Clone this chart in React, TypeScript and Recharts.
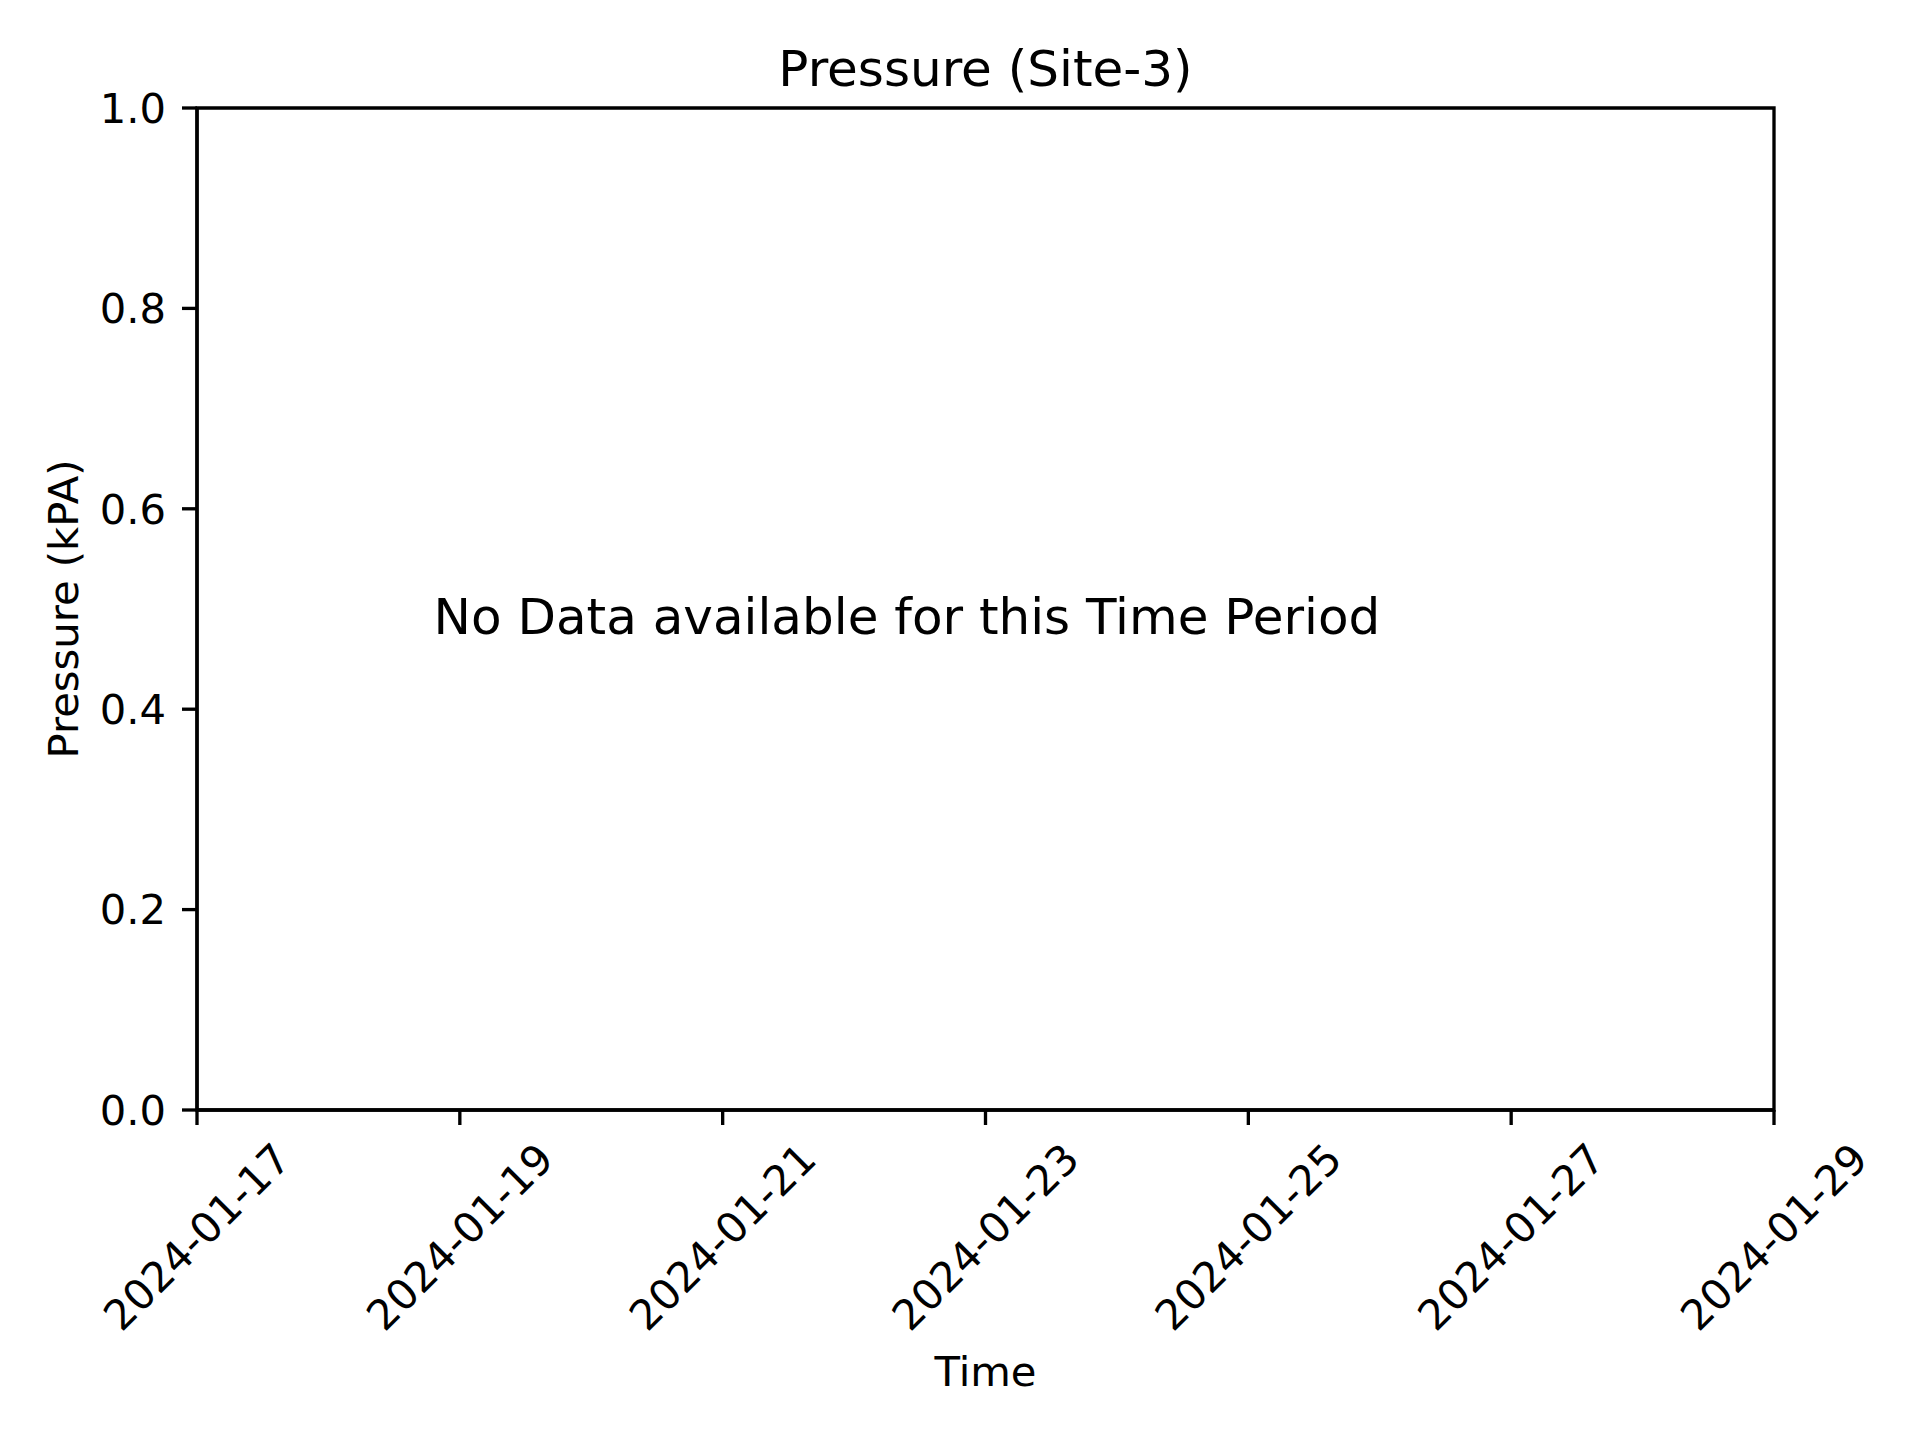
import React from 'react';
import { LineChart, Line, XAxis, YAxis, ReferenceArea, Customized } from 'recharts';

const chartTitle = 'Pressure (Site-3)';
const noDataMessage = 'No Data available for this Time Period';
const xAxisTitle = 'Time';
const yAxisTitle = 'Pressure (kPA)';

// time window shown on the axis
const timeWindow = ['2024-01-17', '2024-01-29'];
// x tick labels, every second day
const timeTickLabels = [
  '2024-01-17',
  '2024-01-19',
  '2024-01-21',
  '2024-01-23',
  '2024-01-25',
  '2024-01-27',
  '2024-01-29'
];
const pressureTicks = [0, 0.2, 0.4, 0.6, 0.8, 1.0];
const pressureDomain = [0, 1];
// no readings were recorded in this window
const pressureReadings: (number | null)[] = [null, null];

const WIDTH = 1920;
const HEIGHT = 1440;
const MARGIN = { top: 108, right: 146, left: 0, bottom: 0 };
const Y_AXIS_WIDTH = 197;
const X_AXIS_HEIGHT = 330;
const PLOT_LEFT = MARGIN.left + Y_AXIS_WIDTH;
const PLOT_RIGHT = WIDTH - MARGIN.right;
const PLOT_TOP = MARGIN.top;
const PLOT_BOTTOM = HEIGHT - MARGIN.bottom - X_AXIS_HEIGHT;

const FONT = '"DejaVu Sans", sans-serif';
const TICK_FONT = 41.7;
const TITLE_FONT = 50;
const LINE_W = 3.33;

const toMs = (d: string) => Date.parse(d + 'T00:00:00Z');
const fmtDate = (t: number) => new Date(t).toISOString().slice(0, 10);

const chartData = timeWindow.map((d, i) => ({ time: toMs(d), pressure: pressureReadings[i] }));
const xTicks = timeTickLabels.map(toMs);

const DateTick = (props: any) => {
  const { x, y, payload } = props;
  return (
    <g transform={`translate(${x},${y + 97}) rotate(-45)`}>
      <text
        x={0}
        y={0}
        textAnchor="middle"
        dominantBaseline="central"
        fontFamily={FONT}
        fontSize={TICK_FONT}
        fill="#000"
      >
        {fmtDate(payload.value)}
      </text>
    </g>
  );
};

const Overlay = () => (
  <g>
    <text
      x={(PLOT_LEFT + PLOT_RIGHT) / 2}
      y={PLOT_TOP - 22}
      textAnchor="middle"
      fontFamily={FONT}
      fontSize={TITLE_FONT}
      fill="#000"
    >
      {chartTitle}
    </text>
    <text
      x={PLOT_LEFT + 0.15 * (PLOT_RIGHT - PLOT_LEFT)}
      y={(PLOT_TOP + PLOT_BOTTOM) / 2 + 25}
      textAnchor="start"
      fontFamily={FONT}
      fontSize={TITLE_FONT}
      fill="#000"
    >
      {noDataMessage}
    </text>
  </g>
);

const App: React.FC = () => {
  return (
    <div style={{ position: 'absolute', left: 0, top: 0, width: WIDTH, height: HEIGHT, background: '#fff' }}>
      <LineChart width={WIDTH} height={HEIGHT} data={chartData} margin={MARGIN}>
        <XAxis
          dataKey="time"
          type="number"
          domain={[toMs(timeWindow[0]), toMs(timeWindow[1])]}
          allowDataOverflow
          ticks={xTicks}
          interval={0}
          height={X_AXIS_HEIGHT}
          tickSize={15}
          tickMargin={15}
          axisLine={{ stroke: '#000', strokeWidth: LINE_W }}
          tickLine={{ stroke: '#000', strokeWidth: LINE_W }}
          tick={<DateTick />}
          label={{
            content: ({ viewBox }: any) => (
              <text
                x={viewBox.x + viewBox.width / 2}
                y={viewBox.y + 276}
                textAnchor="middle"
                fontFamily={FONT}
                fontSize={TICK_FONT}
                fill="#000"
              >
                {xAxisTitle}
              </text>
            )
          }}
        />
        <YAxis
          type="number"
          domain={pressureDomain}
          allowDataOverflow
          ticks={pressureTicks}
          interval={0}
          width={Y_AXIS_WIDTH}
          tickSize={15}
          tickMargin={16}
          tickFormatter={(v: number) => v.toFixed(1)}
          axisLine={{ stroke: '#000', strokeWidth: LINE_W }}
          tickLine={{ stroke: '#000', strokeWidth: LINE_W }}
          tick={{ fill: '#000', fontFamily: FONT, fontSize: TICK_FONT }}
          label={{
            content: ({ viewBox }: any) => (
              <text
                x={viewBox.x + 63}
                y={viewBox.y + viewBox.height / 2}
                transform={`rotate(-90, ${viewBox.x + 63}, ${viewBox.y + viewBox.height / 2})`}
                textAnchor="middle"
                dominantBaseline="central"
                fontFamily={FONT}
                fontSize={TICK_FONT}
                fill="#000"
              >
                {yAxisTitle}
              </text>
            )
          }}
        />
        {/* plot frame (top and right spines) */}
        <ReferenceArea
          x1={toMs(timeWindow[0])}
          x2={toMs(timeWindow[1])}
          y1={pressureDomain[0]}
          y2={pressureDomain[1]}
          fill="none"
          stroke="#000"
          strokeWidth={LINE_W}
          ifOverflow="visible"
        />
        <Line
          dataKey="pressure"
          stroke="#1f77b4"
          strokeWidth={6}
          dot={false}
          connectNulls={false}
          isAnimationActive={false}
        />
        <Customized component={<Overlay />} />
      </LineChart>
    </div>
  );
};

export default App;
